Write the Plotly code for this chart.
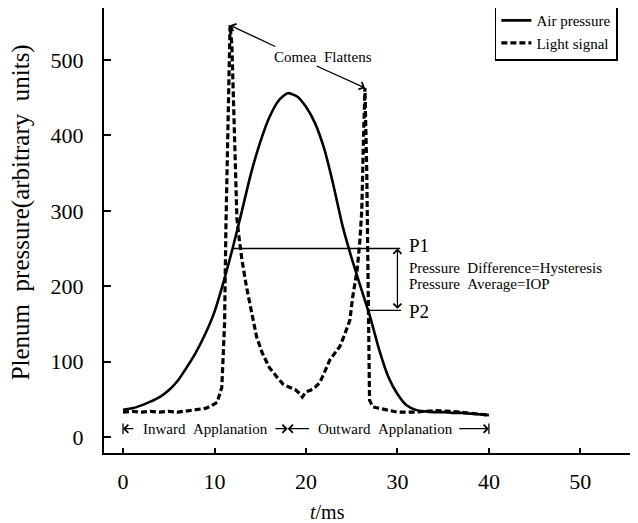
import plotly.graph_objects as go

# ---- data ----
air_t = list(range(0, 41))
air_p = [36, 38, 42, 47, 53, 62, 75, 93, 113, 137,
         166, 206, 251, 300, 350, 391, 424, 446, 456, 452,
         438, 416, 382, 334, 280, 237, 198, 160, 116, 80,
         57, 42, 36, 34, 33, 33, 32, 32, 31, 30, 29]

light_t = [0, 1, 2, 3, 4, 5, 6, 7, 8, 9,
           9.6, 10.3, 10.8, 11.1, 11.25, 11.45, 11.7, 11.9, 12.2, 12.45,
           12.65, 13.0, 13.5, 14.0, 14.6, 15.2, 16.0, 16.8, 17.5, 18.2,
           18.8, 19.3, 19.6, 20.0, 20.5, 21.0, 21.5, 22.0, 22.6, 23.2,
           23.7, 24.2, 24.8, 25.1, 25.6, 25.9, 26.1, 26.3, 26.45, 26.65,
           26.8, 26.95, 27.3, 28, 29, 30, 32, 34, 36, 38, 40]
light_v = [33, 34, 33, 34, 33, 34, 33, 35, 36, 38,
           41, 46, 66, 150, 280, 420, 546, 520, 400, 290,
           268, 235, 199, 170, 133, 112, 92, 80, 70, 66,
           63, 58, 53, 60, 62, 66, 72, 85, 102, 112,
           120, 135, 155, 185, 222, 261, 300, 400, 463, 350,
           170, 49, 40, 38, 35, 33, 33, 35, 34, 32, 29]

x_ticks = [0, 10, 20, 30, 40, 50]
y_ticks = [0, 100, 200, 300, 400, 500]

P1 = 250
P2 = 168
peak1 = (11.7, 546)
peak2 = (26.45, 463)

FONT = "Liberation Serif"
NB = "\u00a0"

fig = go.Figure()
fig.add_trace(go.Scatter(x=air_t, y=air_p, mode="lines", name="Air" + NB + "pressure",
                         line=dict(color="black", width=2.6, shape="spline", smoothing=0.6)))
fig.add_trace(go.Scatter(x=light_t, y=light_v, mode="lines", name="Light" + NB + "signal",
                         line=dict(color="black", width=3.2, dash="6px,3px")))

shapes = [
    dict(type="line", xref="x", yref="y", x0=12.0, x1=30.3, y0=P1, y1=P1,
         line=dict(color="black", width=1.3)),
    dict(type="line", xref="x", yref="y", x0=26.7, x1=30.4, y0=P2, y1=P2,
         line=dict(color="black", width=1.3)),
    # end bars of the applanation arrows
    dict(type="line", xref="x", yref="y", x0=0, x1=0, y0=4, y1=18,
         line=dict(color="black", width=1.3)),
    dict(type="line", xref="x", yref="y", x0=40, x1=40, y0=4, y1=18,
         line=dict(color="black", width=1.3)),
]

ann = []
def arrow(xh, yh, xt, yt, head=4, size=1.2, width=1.3, both=False):
    d = dict(x=xh, y=yh, ax=xt, ay=yt, xref="x", yref="y", axref="x", ayref="y",
             text="", showarrow=True, arrowhead=head, arrowsize=size,
             arrowwidth=width, arrowcolor="black")
    if both:
        d.update(arrowside="end+start", startarrowhead=head, startarrowsize=size)
    return d

def txt(x, y, s, size=14, xanchor="center", **kw):
    d = dict(x=x, y=y, xref="x", yref="y", text=s, showarrow=False,
             xanchor=xanchor, yanchor="middle",
             font=dict(family=FONT, size=size, color="black"))
    d.update(kw)
    return d

# Cornea flattens
ann.append(txt(21.9, 504, "Comea" + NB * 2 + "Flattens", size=15))
ann.append(arrow(peak1[0], peak1[1], 16.8, 517))
ann.append(arrow(peak2[0], peak2[1], 21.0, 493))

# P1 / P2 double arrow
ann.append(arrow(30.0, P1, 30.0, P2, both=True))
ann.append(txt(31.0, P1 + 4, "P1", size=19, xanchor="left"))
ann.append(txt(31.0, P2 - 2, "P2", size=19, xanchor="left"))
ann.append(txt(31.0, 224, "Pressure" + NB * 2 + "Difference=Hysteresis", size=15, xanchor="left"))
ann.append(txt(31.0, 203, "Pressure" + NB * 2 + "Average=IOP", size=15, xanchor="left"))

# Applanation arrows
yA = 11
ann.append(arrow(0, yA, 1.3, yA))
ann.append(txt(9.0, yA, "Inward" + NB * 2 + "Applanation", size=15))
ann.append(arrow(18.0, yA, 16.5, yA))
ann.append(arrow(18.0, yA, 20.5, yA))
ann.append(txt(28.7, yA, "Outward" + NB * 2 + "Applanation", size=15))
ann.append(arrow(40, yA, 36.6, yA))

# axis titles
ann.append(dict(x=0, y=298, xref="paper", yref="y", xshift=-83,
                text="Plenum" + NB * 2 + "pressure(arbitrary" + NB * 2 + "units)",
                textangle=-90, showarrow=False, xanchor="center", yanchor="middle",
                font=dict(family=FONT, size=25, color="black")))
ann.append(dict(x=22.3, y=0, xref="x", yref="paper", yshift=-59, text="<i>t</i>/ms",
                showarrow=False, xanchor="center", yanchor="middle",
                font=dict(family=FONT, size=20, color="black")))

# the page body adds an 8px margin; the figure is sized so the plot area
# lands where the reference has it
fig.update_layout(
    width=630, height=515,
    margin=dict(l=96, r=0, t=0, b=70, autoexpand=False),
    plot_bgcolor="white", paper_bgcolor="white",
    font=dict(family=FONT, color="black"),
    shapes=shapes, annotations=ann,
    showlegend=True,
    legend=dict(x=0.732, y=1.012, xanchor="left", yanchor="top",
                bordercolor="black", borderwidth=1.5, bgcolor="white",
                font=dict(family=FONT, size=15, color="black"),
                itemwidth=30, tracegroupgap=0),
    xaxis=dict(range=[-2.08, 56.3], tickvals=x_ticks, ticks="inside", ticklen=5,
               tickwidth=1.5, tickcolor="black", showline=True, linewidth=2,
               linecolor="black", mirror=True, showgrid=False, zeroline=False,
               tickfont=dict(family=FONT, size=22, color="black"),
               ticklabelstandoff=8, automargin=False),
    yaxis=dict(range=[-21.2, 569], tickvals=y_ticks, ticks="inside", ticklen=7,
               tickwidth=1.5, tickcolor="black", showline=True, linewidth=2,
               linecolor="black", showgrid=False, zeroline=False,
               tickfont=dict(family=FONT, size=22, color="black"),
               ticklabelstandoff=14, automargin=False),
)

fig.write_html("out.html")
